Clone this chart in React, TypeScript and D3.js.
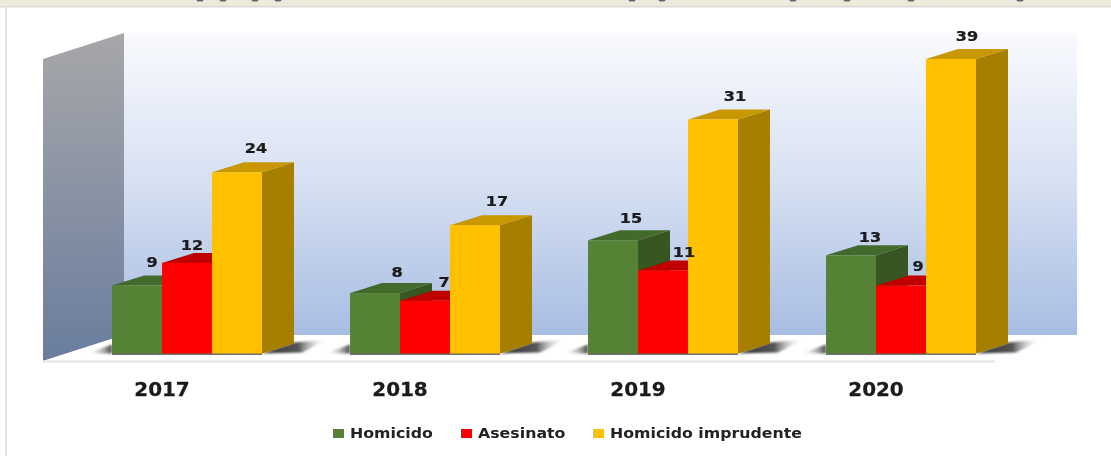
import React from "react";
import * as d3 from "d3";

const years = ["2017", "2018", "2019", "2020"];
const seriesNames = ["Homicido", "Asesinato", "Homicido imprudente"];
const homicido = [9, 8, 15, 13];
const asesinato = [12, 7, 11, 9];
const imprudente = [24, 17, 31, 39];
const seriesValues = [homicido, asesinato, imprudente];

const frontColors = ["#548235", "#ff0000", "#ffc000"];
const topColors = ["#426a2a", "#c00000", "#c99700"];
const sideColors = ["#385723", "#a80000", "#a67e00"];

// label offsets from each bar's top centre [dx, dy], by series then year
const labelNudge = [
  [[15, -24], [22, -21], [18, -22], [19, -18]],
  [[5, -18], [19, -19], [21, -18], [17, -20]],
  [[19, -24], [22, -24], [22, -23], [16, -23]],
];
const topMarks = [200, 223, 255, 278, 632, 662, 793, 847, 911, 1020];

const W = 1111, H = 456;
const BASE = 353.5, DX = 32, DY = 10;
const FONT = "'DejaVu Sans', Verdana, sans-serif";

const x0 = d3.scaleBand<string>().domain(years).range([68, 1020]).paddingInner(0.37).paddingOuter(0.185);
const x1 = d3.scaleBand<string>().domain(seriesNames).range([0, x0.bandwidth()]);
const y = d3.scaleLinear().domain([0, 39]).range([BASE, 59]);
const pts = (p: number[][]) => p.map((q) => q.join(",")).join(" ");

export default function App() {
  const legendX = [333, 461, 593];
  return (
    <svg width={W} height={H} viewBox={`0 0 ${W} ${H}`} style={{ position: "absolute", left: 0, top: 0, display: "block", background: "#fff" }}>
      <defs>
        <linearGradient id="wall" x1="0" y1="0" x2="0" y2="1">
          <stop offset="0" stopColor="#f9fafe" />
          <stop offset="0.5" stopColor="#d6e0f2" />
          <stop offset="1" stopColor="#a8bde2" />
        </linearGradient>
        <linearGradient id="side" x1="0" y1="0" x2="0" y2="1">
          <stop offset="0" stopColor="#a7a7a9" />
          <stop offset="1" stopColor="#6a7d9e" />
        </linearGradient>
        <linearGradient id="shR" x1="0" y1="0" x2="1" y2="0">
          <stop offset="0" stopColor="#333" />
          <stop offset="0.55" stopColor="#555" />
          <stop offset="1" stopColor="#fff" stopOpacity="0" />
        </linearGradient>
        <linearGradient id="shL" x1="0" y1="0" x2="1" y2="0">
          <stop offset="0" stopColor="#fff" stopOpacity="0" />
          <stop offset="1" stopColor="#444" />
        </linearGradient>
        <filter id="soft" x="-5%" y="-5%" width="110%" height="110%">
          <feGaussianBlur stdDeviation="0.45" />
        </filter>
        <filter id="softer" x="-20%" y="-20%" width="140%" height="140%">
          <feGaussianBlur stdDeviation="0.8" />
        </filter>
      </defs>

      <rect x={0} y={0} width={W} height={6} fill="#ece9dd" />
      <rect x={0} y={6} width={W} height={1.5} fill="#d9d9d6" />
      <rect x={5} y={7} width={2} height={H - 7} fill="#e4e4e4" />
      {topMarks.map((m) => (
        <ellipse key={m} cx={m} cy={0} rx={3.5} ry={1.5} fill="#666" />
      ))}

      <rect x={124} y={33} width={953} height={302} fill="url(#wall)" />
      <polygon points={pts([[43, 59], [124, 33], [124, 335], [43, 361]])} fill="url(#side)" />
      <polygon points={pts([[43, 361], [124, 335], [1030, 335], [995, 361]])} fill="#fff" />
      <rect x={43} y={360.5} width={952} height={2} fill="#e6e6e6" />

      {years.map((yr) => {
        const left = x0(yr)!;
        const right = left + x0.bandwidth();
        return (
          <g key={"sh" + yr} filter="url(#softer)">
            <polygon points={pts([[right, BASE], [right + DX, BASE - 11], [right + DX + 34, BASE - 14], [right + 40, BASE - 1]])} fill="url(#shR)" />
            <polygon points={pts([[left - 26, BASE], [left, BASE - 9], [left, BASE]])} fill="url(#shL)" />
          </g>
        );
      })}

      <g filter="url(#soft)">
        {years.map((yr, yi) => {
          const left = x0(yr)!;
          return (
            <g key={yr}>
              <rect x={left} y={BASE - 0.5} width={x0.bandwidth()} height={2} fill="#6f6f6f" />
              {seriesNames.map((s, si) => {
                const v = seriesValues[si][yi];
                const a = left + x1(s)!;
                const b = a + x1.bandwidth();
                const t = y(v);
                return (
                  <g key={s}>
                    <polygon points={pts([[b, t], [b + DX, t - DY], [b + DX, BASE - DY], [b, BASE]])} fill={sideColors[si]} />
                    <polygon points={pts([[a, t], [a + DX, t - DY], [b + DX, t - DY], [b, t]])} fill={topColors[si]} />
                    <rect x={a} y={t} width={x1.bandwidth()} height={BASE - t} fill={frontColors[si]} />
                  </g>
                );
              })}
            </g>
          );
        })}

        {years.map((yr, yi) =>
          seriesNames.map((s, si) => {
            const v = seriesValues[si][yi];
            const [dx, dy] = labelNudge[si][yi];
            const lx = x0(yr)! + x1(s)! + x1.bandwidth() / 2 + dx;
            return (
              <text key={yr + s} transform={`translate(${lx},${y(v) + dy}) scale(1.15,1)`} dy="0.36em" textAnchor="middle"
                fontFamily={FONT} fontWeight={700} fontSize={14} fill="#1a1a1a" stroke="#1a1a1a" strokeWidth={0.25}>{v}</text>
            );
          })
        )}

        {years.map((yr) => (
          <text key={"t" + yr} transform={`translate(${x0(yr)! + x0.bandwidth() / 2 - 25},389.5) scale(1.05,1)`} dy="0.36em" textAnchor="middle"
            fontFamily={FONT} fontWeight={700} fontSize={19} fill="#1a1a1a" stroke="#1a1a1a" strokeWidth={0.25}>{yr}</text>
        ))}

        {seriesNames.map((s, si) => (
          <g key={"l" + s}>
            <rect x={legendX[si]} y={429} width={11} height={9} fill={frontColors[si]} />
            <text transform={`translate(${legendX[si] + 17},433.5) scale(1.17,1)`} dy="0.36em" fontFamily={FONT} fontWeight={700} fontSize={13.5} fill="#222">{s}</text>
          </g>
        ))}
      </g>
    </svg>
  );
}
